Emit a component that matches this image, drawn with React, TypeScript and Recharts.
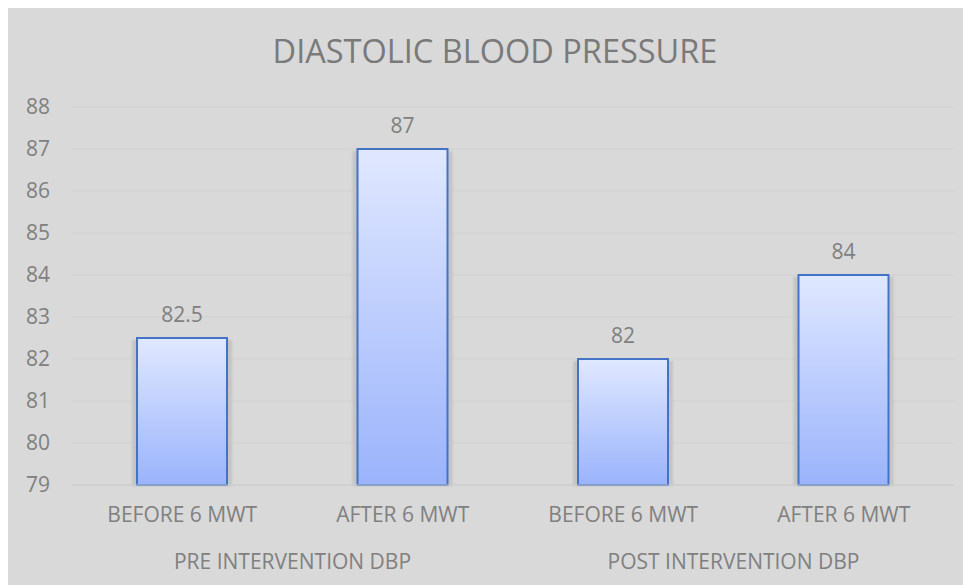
import React from "react";
import { BarChart, Bar, XAxis, YAxis, CartesianGrid, LabelList } from "recharts";

const categories = ["BEFORE 6 MWT", "AFTER 6 MWT", "BEFORE 6 MWT", "AFTER 6 MWT"];
const groups = ["PRE INTERVENTION DBP", "PRE INTERVENTION DBP", "POST INTERVENTION DBP", "POST INTERVENTION DBP"];
const values = [82.5, 87, 82, 84];
const yTicks = [79, 80, 81, 82, 83, 84, 85, 86, 87, 88];
const title = "DIASTOLIC BLOOD PRESSURE";

const data = categories.map((c, i) => ({ key: i, name: c, group: groups[i], value: values[i] }));

const FONT = "'Open Sans', 'DejaVu Sans', sans-serif";
const TEXT = "#808080";
const FS = 21;

const BarShape = (props: any) => {
  const { x, y, width, height } = props;
  if (width == null || height == null) return null;
  return (
    <g>
      <rect x={x - 5} y={y + 2} width={width + 10} height={height - 1} fill="#c4c4c4" filter="url(#blur)" />
      <rect x={x} y={y} width={width} height={height} fill="url(#barGrad)" stroke="#4472c4" strokeWidth={2} />
    </g>
  );
};

const CatTick = (props: any) => {
  const { x, y, payload } = props;
  const i = payload.index;
  const off = payload.offset ?? 0;
  const showGroup = i === 0 || groups[i] !== groups[i - 1];
  return (
    <g>
      <text x={x} y={y} textAnchor="middle" dy="0.71em" fill={TEXT} fontSize={FS} fontFamily={FONT}>
        {categories[i]}
      </text>
      {showGroup && (
        <text x={x + off} y={y + 47.5} textAnchor="middle" dy="0.71em" fill={TEXT} fontSize={FS} fontFamily={FONT}>
          {groups[i]}
        </text>
      )}
    </g>
  );
};

export default function App() {
  return (
    <div style={{ position: "relative", width: 956, height: 578, marginLeft: -1, marginTop: -1, background: "#d9d9d9" }}>
      <div
        style={{
          position: "absolute",
          top: 24,
          left: 10,
          width: 956,
          textAlign: "center",
          fontFamily: FONT,
          fontSize: 32.5,
          color: "#7a7a7a",
          lineHeight: "40px",
        }}
      >
        {title}
      </div>
      <BarChart width={956} height={578} data={data} margin={{ top: 100, right: 9, bottom: 5, left: 0 }}>
        <defs>
          <linearGradient id="barGrad" x1="0" y1="0" x2="0" y2="1">
            <stop offset="0%" stopColor="#e0e8ff" />
            <stop offset="100%" stopColor="#9ab3fb" />
          </linearGradient>
          <filter id="blur" x="-20%" y="-20%" width="140%" height="140%">
            <feGaussianBlur stdDeviation="1.2" />
          </filter>
        </defs>
        <CartesianGrid vertical={false} stroke="#d1d1d1" strokeWidth={1} />
        <XAxis
          dataKey="key"
          height={95}
          tickLine={false}
          tickSize={0}
          tickMargin={22}
          axisLine={{ stroke: "#cccccc" }}
          tick={<CatTick />}
          interval={0}
        />
        <YAxis
          domain={[79, 88]}
          ticks={yTicks}
          width={65}
          tickLine={false}
          axisLine={false}
          tickSize={0}
          tickMargin={22}
          interval={0}
          tick={{ fill: TEXT, fontSize: FS, fontFamily: FONT }}
        />
        <Bar dataKey="value" barSize={90} shape={<BarShape />} isAnimationActive={false}>
          <LabelList dataKey="value" position="top" offset={16.5} fill={TEXT} fontSize={FS} fontFamily={FONT} />
        </Bar>
      </BarChart>
    </div>
  );
}
